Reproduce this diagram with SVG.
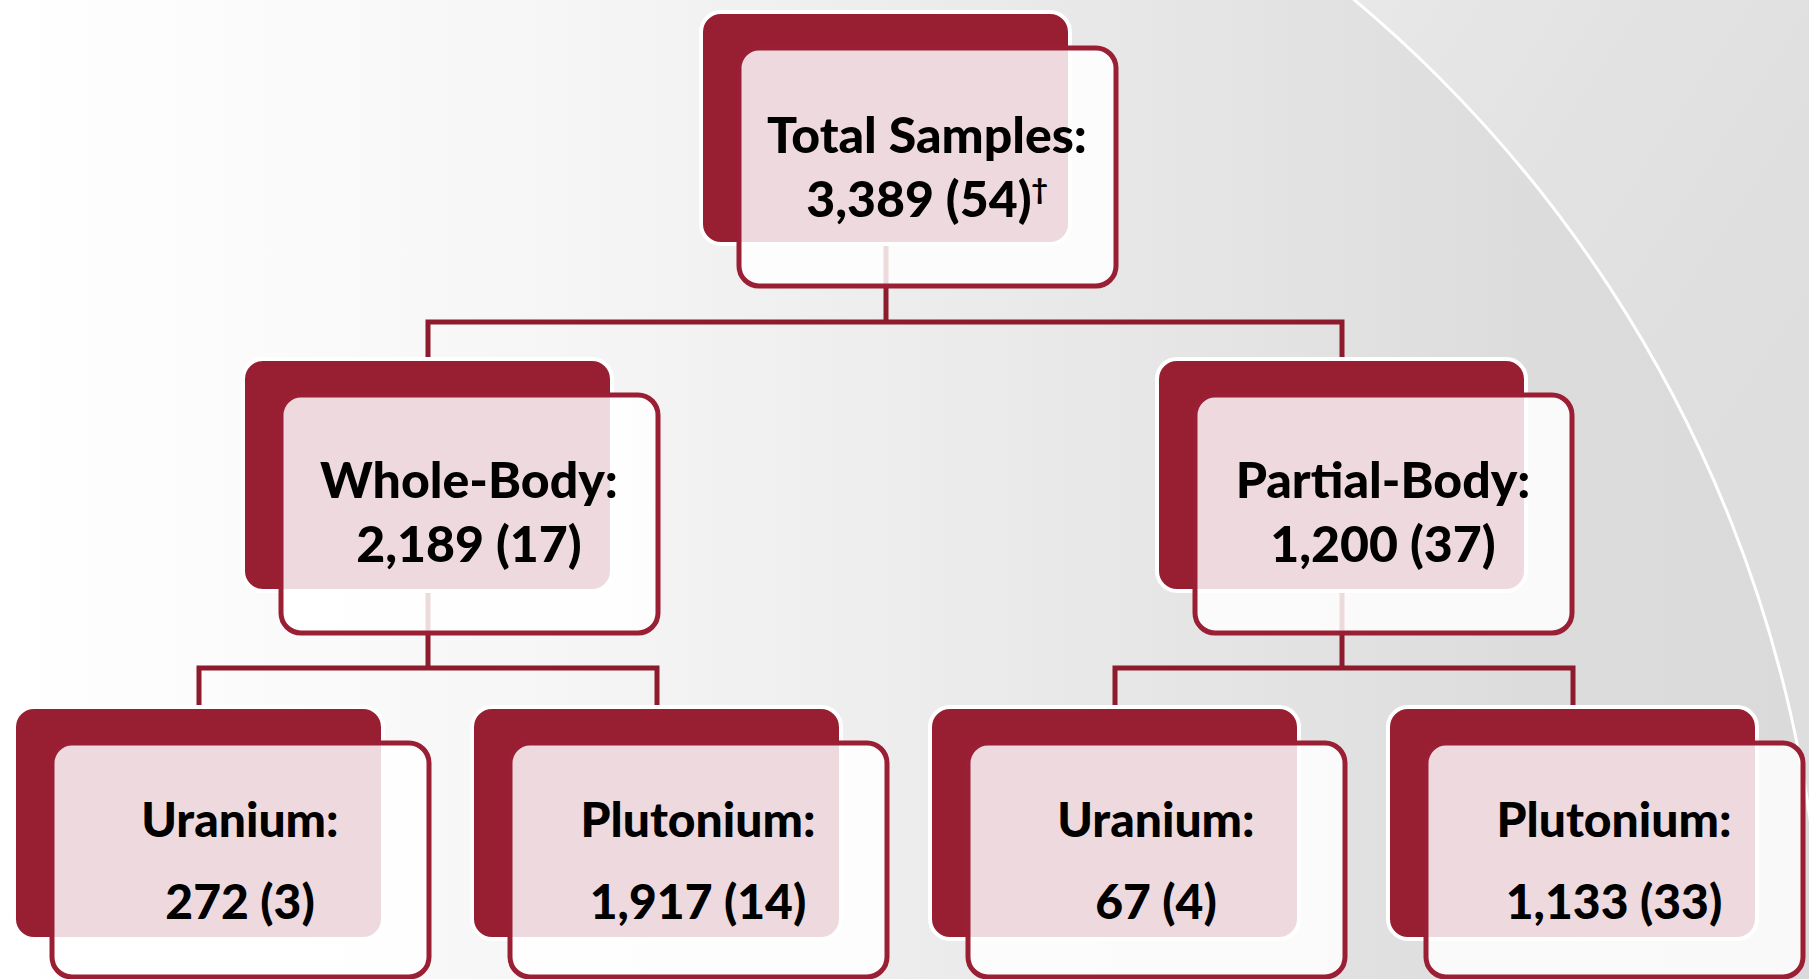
<svg xmlns="http://www.w3.org/2000/svg" width="1809" height="979" viewBox="0 0 1809 979">
<defs>
<linearGradient id="bgIn" gradientUnits="userSpaceOnUse" x1="0" y1="0" x2="1809" y2="0">
<stop offset="0" stop-color="#ffffff"/>
<stop offset="0.3" stop-color="#f6f6f6"/>
<stop offset="0.6" stop-color="#e8e8e8"/>
<stop offset="0.85" stop-color="#dcdcdc"/>
<stop offset="1" stop-color="#dadada"/>
</linearGradient>
<linearGradient id="bgOut" gradientUnits="userSpaceOnUse" x1="1350" y1="0" x2="1809" y2="300">
<stop offset="0" stop-color="#e8e8e8"/>
<stop offset="0.5" stop-color="#e2e2e2"/>
<stop offset="1" stop-color="#dedede"/>
</linearGradient>
<style>
.back{fill:#981e32;stroke:#ffffff;stroke-width:4}
.front{fill:#ffffff;fill-opacity:0.84;stroke:#9b1f34;stroke-width:5}
.lbl{font-family:Lato,"Open Sans","Liberation Sans",sans-serif;font-weight:900;font-size:50px;fill:#000000;text-anchor:middle}
.sm{font-size:48px}
.conn{fill:none;stroke:#8c1b2e;stroke-width:5;stroke-linecap:square}
</style>
</defs>
<rect x="0" y="0" width="1809" height="979" fill="url(#bgOut)"/>
<circle cx="513" cy="1004" r="1310" fill="url(#bgIn)" stroke="#ffffff" stroke-width="3"/>
<g id="connectors">
<path class="conn" d="M886 240 V322 M428 322 H1342 M428 322 V359 M1342 322 V359"/>
<path class="conn" d="M428 590 V668 M199 668 H657 M199 668 V707 M657 668 V707"/>
<path class="conn" d="M1342 590 V668 M1115 668 H1573 M1115 668 V707 M1573 668 V707"/>
</g>
<g id="node-total">
<rect class="back" x="701" y="12" width="369" height="232" rx="20"/>
<rect class="front" x="739" y="48" width="377" height="238" rx="20"/>
<text class="lbl" x="927" y="153">Total Samples:</text>
<text class="lbl" x="927" y="217">3,389 (54)<tspan font-size="28" dy="-18">†</tspan></text>
</g>
<g id="node-whole-body">
<rect class="back" x="243" y="359" width="369" height="232" rx="20"/>
<rect class="front" x="281" y="395" width="377" height="238" rx="20"/>
<text class="lbl" x="469" y="498">Whole-Body:</text>
<text class="lbl" x="469" y="562">2,189 (17)</text>
</g>
<g id="node-partial-body">
<rect class="back" x="1157" y="359" width="369" height="232" rx="20"/>
<rect class="front" x="1195" y="395" width="377" height="238" rx="20"/>
<text class="lbl" x="1383" y="498">Partial-Body:</text>
<text class="lbl" x="1383" y="562">1,200 (37)</text>
</g>
<g id="node-wb-uranium">
<rect class="back" x="14" y="707" width="369" height="232" rx="20"/>
<rect class="front" x="52" y="743" width="377" height="234" rx="20"/>
<text class="lbl sm" x="240" y="837">Uranium:</text>
<text class="lbl sm" x="240" y="919">272 (3)</text>
</g>
<g id="node-wb-plutonium">
<rect class="back" x="472" y="707" width="369" height="232" rx="20"/>
<rect class="front" x="510" y="743" width="377" height="234" rx="20"/>
<text class="lbl sm" x="698" y="837">Plutonium:</text>
<text class="lbl sm" x="698" y="919">1,917 (14)</text>
</g>
<g id="node-pb-uranium">
<rect class="back" x="930" y="707" width="369" height="232" rx="20"/>
<rect class="front" x="968" y="743" width="377" height="234" rx="20"/>
<text class="lbl sm" x="1156" y="837">Uranium:</text>
<text class="lbl sm" x="1156" y="919">67 (4)</text>
</g>
<g id="node-pb-plutonium">
<rect class="back" x="1388" y="707" width="369" height="232" rx="20"/>
<rect class="front" x="1426" y="743" width="377" height="234" rx="20"/>
<text class="lbl sm" x="1614" y="837">Plutonium:</text>
<text class="lbl sm" x="1614" y="919">1,133 (33)</text>
</g>
</svg>
